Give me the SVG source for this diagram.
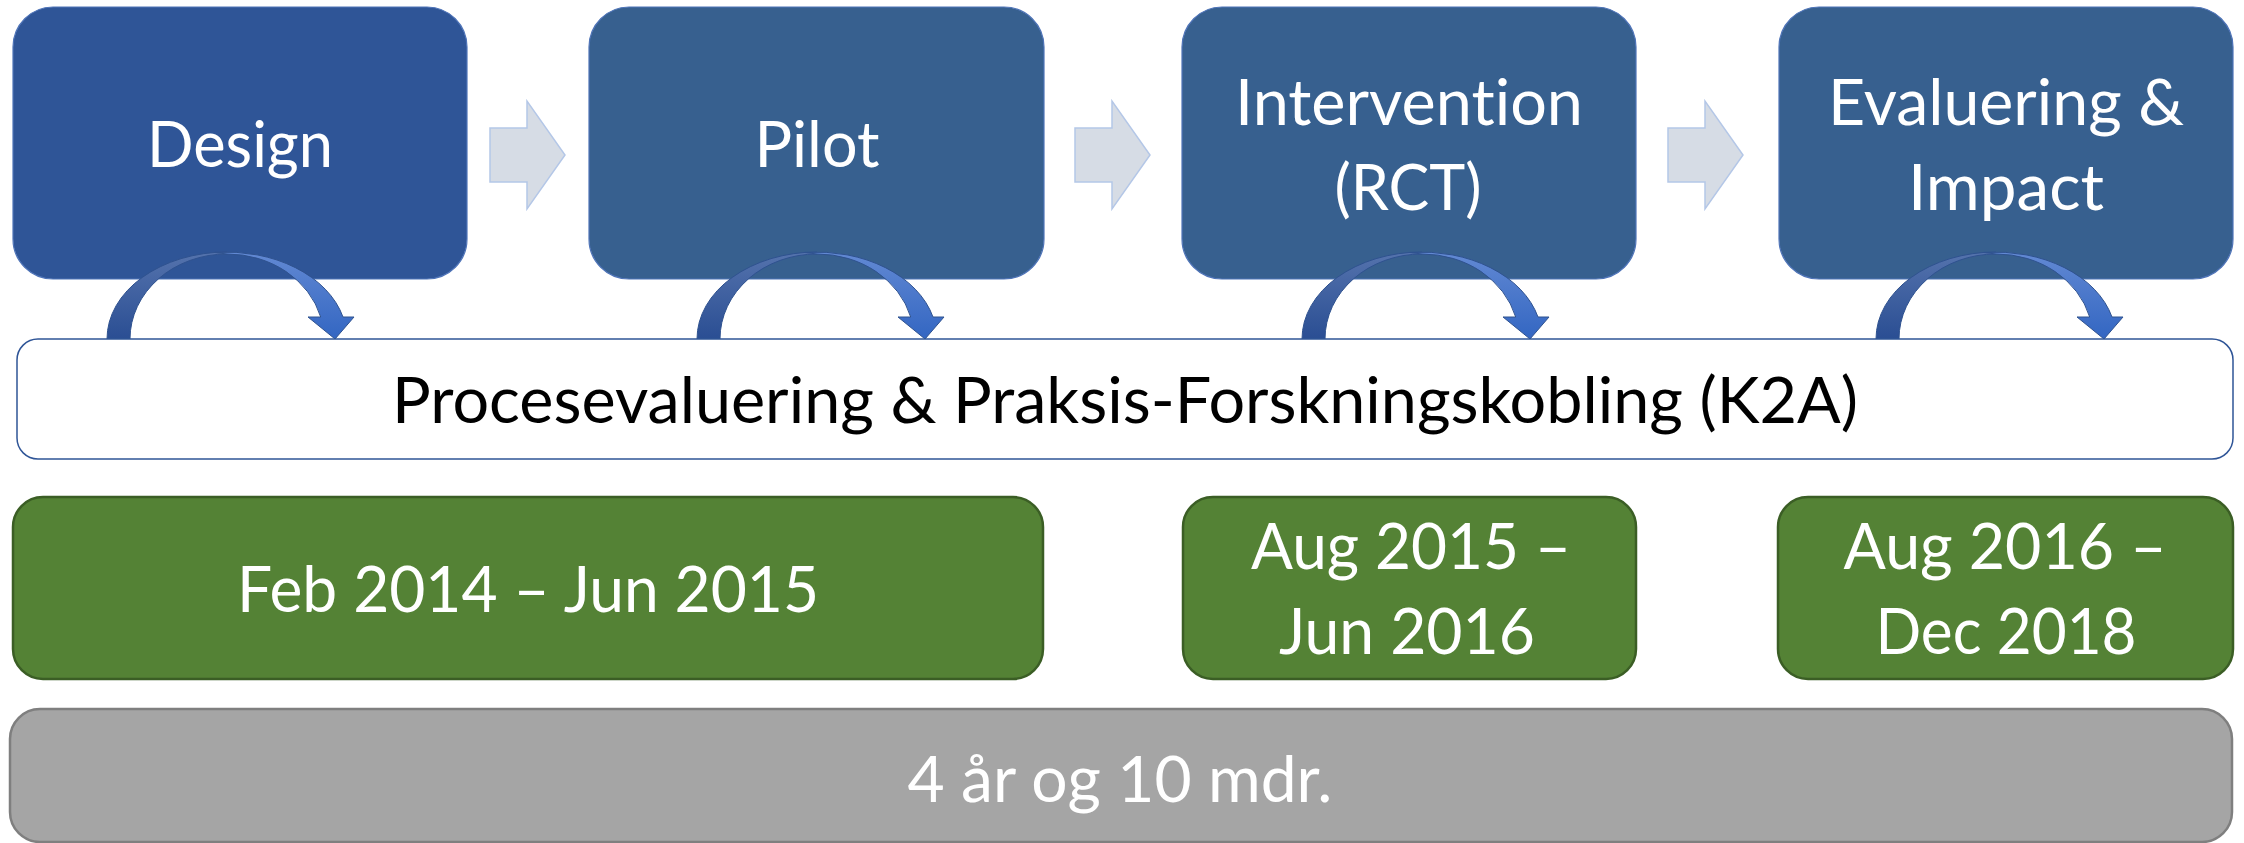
<svg xmlns="http://www.w3.org/2000/svg" xmlns:xlink="http://www.w3.org/1999/xlink" width="2244" height="843" viewBox="0 0 2244 843">
<style>
.t{font-family:Lato,"Open Sans","Noto Sans",sans-serif;font-size:63px;text-anchor:middle;font-variant-ligatures:none;font-feature-settings:"liga" 0,"dlig" 0}
.w{fill:#ffffff}
.k{fill:#000000}
.blue{stroke:#4f74b8;stroke-width:1.2}
.green{fill:#548235;stroke:#3b5e25;stroke-width:2.5}
.grey{fill:#a5a5a5;stroke:#7f7f7f;stroke-width:2.5}
.blk{fill:#d6dce5;stroke:#b4c7e7;stroke-width:1.5}
.cv{stroke:#2f528f;stroke-width:1;stroke-linejoin:round}
</style>
<defs>
<linearGradient id="gl" x1="0" y1="0" x2="0" y2="1">
<stop offset="0" stop-color="#5573ad"/>
<stop offset="1" stop-color="#2a4e93"/>
</linearGradient>
<linearGradient id="gr" x1="0" y1="0" x2="0" y2="1">
<stop offset="0" stop-color="#6289d3"/>
<stop offset="1" stop-color="#3366c2"/>
</linearGradient>
<g id="curve">
<path class="cv" fill="url(#gl)" d="M0,339 A120,87 0 0 1 120,252 L120,254 A97,85 0 0 0 23,339 Z"/>
<path class="cv" fill="url(#gr)" d="M108,252.5 A120,87 0 0 1 236,317 L247,317 L228,339 L201,317 L213.7,317 A97,85 0 0 0 120,254 Z"/>
</g>
<path id="blkarrow" class="blk" d="M0,128 H37 V101 L75,155 L37,209 V182 H0 Z"/>
</defs>

<g id="node-design">
<rect class="blue" x="13" y="7" width="454" height="272" rx="40" fill="#2f5597"/>
<text class="t w" x="240" y="167" textLength="186" lengthAdjust="spacingAndGlyphs">Design</text>
</g>
<g id="node-pilot">
<rect class="blue" x="589" y="7" width="455" height="272" rx="40" fill="#37608f"/>
<text class="t w" x="817" y="167" textLength="125" lengthAdjust="spacingAndGlyphs">Pilot</text>
</g>
<g id="node-intervention">
<rect class="blue" x="1182" y="7" width="454" height="272" rx="40" fill="#37608f"/>
<text class="t w" x="1409" y="125" textLength="348" lengthAdjust="spacingAndGlyphs">Intervention</text>
<text class="t w" x="1408" y="210" textLength="147" lengthAdjust="spacingAndGlyphs">(RCT)</text>
</g>
<g id="node-evaluering">
<rect class="blue" x="1779" y="7" width="454" height="272" rx="40" fill="#37608f"/>
<text class="t w" x="2006" y="125" textLength="356" lengthAdjust="spacingAndGlyphs">Evaluering &amp;</text>
<text class="t w" x="2006" y="210" textLength="196" lengthAdjust="spacingAndGlyphs">Impact</text>
</g>

<g id="connectors">
<use xlink:href="#blkarrow" x="490"/>
<use xlink:href="#blkarrow" x="1075"/>
<use xlink:href="#blkarrow" x="1668"/>
<use xlink:href="#curve" x="107"/>
<use xlink:href="#curve" x="697"/>
<use xlink:href="#curve" x="1302"/>
<use xlink:href="#curve" x="1876"/>
</g>

<g id="node-proces">
<rect x="17" y="339" width="2216" height="120" rx="21" fill="#ffffff" stroke="#2f5597" stroke-width="1.5"/>
<text class="t k" x="1125" y="423" textLength="1466" lengthAdjust="spacingAndGlyphs">Procesevaluering &amp; Praksis-Forskningskobling (K2A)</text>
</g>

<g id="node-date1">
<rect class="green" x="13" y="497" width="1030" height="182" rx="30"/>
<text class="t w" x="528" y="612" textLength="582" lengthAdjust="spacingAndGlyphs">Feb 2014 – Jun 2015</text>
</g>
<g id="node-date2">
<rect class="green" x="1183" y="497" width="453" height="182" rx="30"/>
<text class="t w" x="1411" y="569" textLength="320" lengthAdjust="spacingAndGlyphs">Aug 2015 –</text>
<text class="t w" x="1407" y="654" textLength="256" lengthAdjust="spacingAndGlyphs">Jun 2016</text>
</g>
<g id="node-date3">
<rect class="green" x="1778" y="497" width="455" height="182" rx="30"/>
<text class="t w" x="2005" y="569" textLength="323" lengthAdjust="spacingAndGlyphs">Aug 2016 –</text>
<text class="t w" x="2006" y="654" textLength="261" lengthAdjust="spacingAndGlyphs">Dec 2018</text>
</g>

<g id="node-total">
<rect class="grey" x="10" y="709" width="2222" height="133" rx="30"/>
<text class="t w" x="1120" y="802" textLength="425" lengthAdjust="spacingAndGlyphs">4 år og 10 mdr.</text>
</g>
</svg>
